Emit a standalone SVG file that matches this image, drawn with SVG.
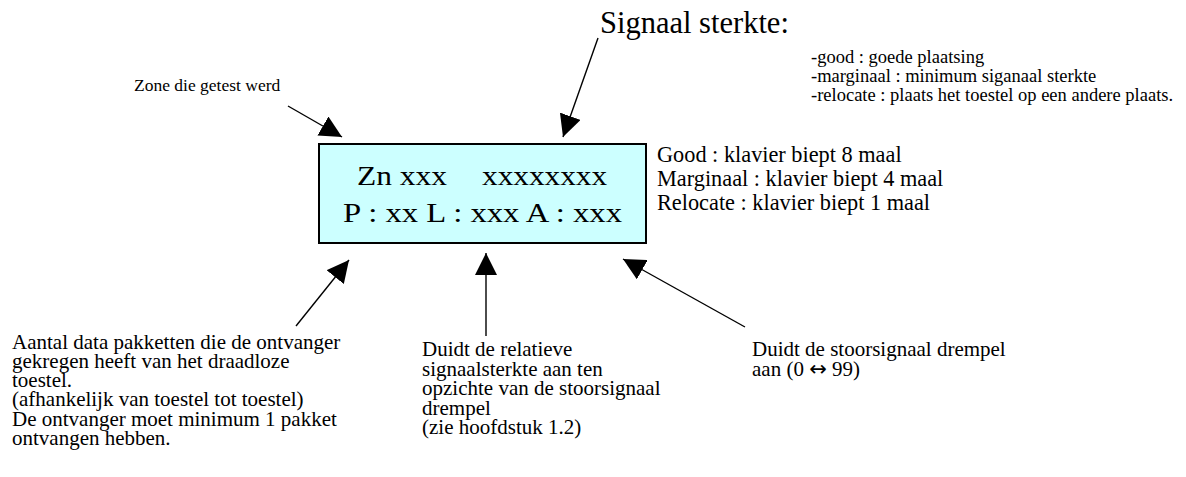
<svg xmlns="http://www.w3.org/2000/svg" width="1186" height="477" viewBox="0 0 1186 477">
<style>
text{font-family:"Liberation Serif","Times New Roman",serif;fill:#000}
.s{font-size:18.5px}
.l{font-size:21px}
.r{font-size:22.3px}
.b{font-size:28px}
.sym{font-family:"DejaVu Sans",sans-serif}
.line{stroke:#000;stroke-width:1.4;fill:none;marker-end:url(#ah)}
</style>
<defs>
<marker id="ah" markerUnits="userSpaceOnUse" markerWidth="22" markerHeight="22" refX="21" refY="10.5" orient="auto" viewBox="0 0 21 21">
<path d="M0,0 L21,10.5 L0,21 z" fill="#000"/>
</marker>
</defs>
<rect width="1186" height="477" fill="#fff"/>
<g id="display">
<rect x="319" y="144" width="327" height="99" fill="#ccffff" stroke="#000" stroke-width="2"/>
<text class="b" x="357" y="185" textLength="90" lengthAdjust="spacingAndGlyphs">Zn xxx</text>
<text class="b" x="482" y="185" textLength="125" lengthAdjust="spacingAndGlyphs">xxxxxxxx</text>
<text class="b" x="343" y="222" textLength="279" lengthAdjust="spacingAndGlyphs">P : xx L : xxx A : xxx</text>
</g>
<g id="signaal">
<text x="600" y="33" font-size="30.5">Signaal sterkte:</text>
<text class="s" x="811" y="63">-good : goede plaatsing</text>
<text class="s" x="811" y="82">-marginaal : minimum siganaal sterkte</text>
<text class="s" x="811" y="101">-relocate : plaats het toestel op een andere plaats.</text>
</g>
<g id="zone">
<text x="134" y="91" font-size="17.5">Zone die getest werd</text>
</g>
<g id="beeps">
<text class="r" x="657" y="162">Good : klavier biept 8 maal</text>
<text class="r" x="657" y="186">Marginaal : klavier biept 4 maal</text>
<text class="r" x="657" y="210">Relocate : klavier biept 1 maal</text>
</g>
<g id="pakketten">
<text class="l" x="12" y="349">Aantal data pakketten die de ontvanger</text>
<text class="l" x="12" y="368">gekregen heeft van het draadloze</text>
<text class="l" x="12" y="387">toestel.</text>
<text class="l" x="12" y="406">(afhankelijk van toestel tot toestel)</text>
<text class="l" x="12" y="426">De ontvanger moet minimum 1 pakket</text>
<text class="l" x="12" y="445">ontvangen hebben.</text>
</g>
<g id="relatief">
<text class="l" x="422" y="356">Duidt de relatieve</text>
<text class="l" x="422" y="376">signaalsterkte aan ten</text>
<text class="l" x="422" y="395">opzichte van de stoorsignaal</text>
<text class="l" x="422" y="415">drempel</text>
<text class="l" x="422" y="434">(zie hoofdstuk 1.2)</text>
</g>
<g id="drempel">
<text class="l" x="752" y="356">Duidt de stoorsignaal drempel</text>
<text class="l" x="752" y="376">aan (0 <tspan class="sym">↔</tspan> 99)</text>
</g>
<g id="connectors">
<line class="line" x1="288" y1="106" x2="342" y2="137"/>
<line class="line" x1="598" y1="38" x2="563" y2="137"/>
<line class="line" x1="296" y1="326" x2="349" y2="260"/>
<line class="line" x1="486" y1="336" x2="486" y2="253"/>
<line class="line" x1="745" y1="327" x2="623" y2="259"/>
</g>
</svg>
